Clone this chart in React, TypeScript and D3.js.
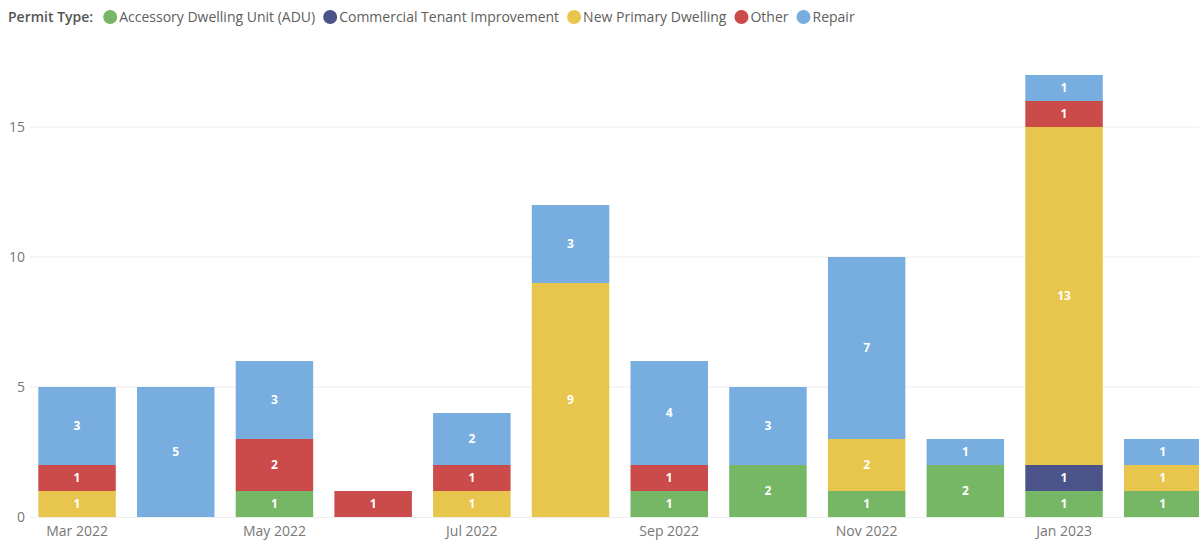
import React, { useEffect, useRef } from "react";
import * as d3 from "d3";

const months = ["Mar 2022", "Apr 2022", "May 2022", "Jun 2022", "Jul 2022", "Aug 2022", "Sep 2022", "Oct 2022", "Nov 2022", "Dec 2022", "Jan 2023", "Feb 2023"];
const keys = ["Accessory Dwelling Unit (ADU)", "Commercial Tenant Improvement", "New Primary Dwelling", "Other", "Repair"];
const colors = ["#76B766", "#4A548A", "#E8C54C", "#CB4A4A", "#77ADDF"];

const adu = [0, 0, 1, 0, 0, 0, 1, 2, 1, 2, 1, 1];
const cti = [0, 0, 0, 0, 0, 0, 0, 0, 0, 0, 1, 0];
const npd = [1, 0, 0, 0, 1, 9, 0, 0, 2, 0, 13, 1];
const other = [1, 0, 2, 1, 1, 0, 1, 0, 0, 0, 1, 0];
const repair = [3, 5, 3, 0, 2, 3, 4, 3, 7, 1, 1, 1];
const yTicks = [0, 5, 10, 15];

const W = 1199;
const H = 542;
const FONT = "'Open Sans', 'DejaVu Sans', sans-serif";

export default function App() {
  const svgRef = useRef<SVGSVGElement>(null);

  useEffect(() => {
    const svg = d3.select(svgRef.current);
    svg.selectAll("*").remove();

    const series = [adu, cti, npd, other, repair];
    const data = months.map((m, i) => {
      const row: any = { month: m };
      keys.forEach((k, j) => (row[k] = series[j][i]));
      return row;
    });
    const layers = d3.stack().keys(keys)(data);

    const step = 98.7;
    const pad = 0.215;
    const r0 = 38.3 - (pad / 2) * step;
    const x = d3.scaleBand().domain(months).range([r0, r0 + step * 12]).paddingInner(pad).paddingOuter(pad / 2);
    const y = d3.scaleLinear().domain([0, 15]).range([517, 127]);

    // grid
    svg.append("g")
      .selectAll("line")
      .data(yTicks.slice(1))
      .join("line")
      .attr("x1", 30)
      .attr("x2", W)
      .attr("y1", d => y(d))
      .attr("y2", d => y(d))
      .attr("stroke", "#EDEDED")
      .attr("stroke-width", 1);

    svg.append("g")
      .selectAll("text")
      .data(yTicks)
      .join("text")
      .attr("x", 25)
      .attr("y", d => y(d))
      .attr("dy", "0.35em")
      .attr("text-anchor", "end")
      .attr("font-family", FONT)
      .attr("font-size", 14)
      .attr("fill", "#777")
      .text(d => d);

    // bars
    const g = svg.append("g");
    layers.forEach((layer, li) => {
      const lg = g.append("g").attr("fill", colors[li]);
      layer.forEach((s: any) => {
        const v = s[1] - s[0];
        if (v <= 0) return;
        const x0 = x(s.data.month)!;
        lg.append("rect")
          .attr("x", x0)
          .attr("width", x.bandwidth())
          .attr("y", y(s[1]))
          .attr("height", y(s[0]) - y(s[1]));
        g.append("text")
          .attr("x", x0 + x.bandwidth() / 2)
          .attr("y", (y(s[0]) + y(s[1])) / 2)
          .attr("dy", "0.36em")
          .attr("text-anchor", "middle")
          .attr("font-family", FONT)
          .attr("font-weight", 700)
          .attr("font-size", 12)
          .attr("fill", "#fff")
          .text(v);
      });
    });

    // baseline
    svg.append("line")
      .attr("x1", 30).attr("x2", W)
      .attr("y1", y(0) + 0.5).attr("y2", y(0) + 0.5)
      .attr("stroke", "#EDEDED");

    // x labels (every other month)
    svg.append("g")
      .selectAll("text")
      .data(months.filter((_, i) => i % 2 === 0))
      .join("text")
      .attr("x", d => x(d)! + x.bandwidth() / 2)
      .attr("y", 531)
      .attr("dy", "0.35em")
      .attr("text-anchor", "middle")
      .attr("font-family", FONT)
      .attr("font-size", 14)
      .attr("fill", "#777")
      .text(d => d);

    // legend
    const leg = svg.append("g").attr("font-family", FONT).attr("font-size", 14);
    const title = leg.append("text")
      .attr("x", 8).attr("y", 17).attr("dy", "0.35em")
      .attr("fill", "#555").attr("font-weight", 600)
      .text("Permit Type:");
    let cx = 8 + (title.node() as SVGTextElement).getComputedTextLength() + 17;
    keys.forEach((k, i) => {
      leg.append("circle").attr("cx", cx).attr("cy", 17).attr("r", 7).attr("fill", colors[i]);
      const t = leg.append("text")
        .attr("x", cx + 9).attr("y", 17).attr("dy", "0.35em")
        .attr("fill", "#605E5C").text(k);
      cx += 9 + (t.node() as SVGTextElement).getComputedTextLength() + 15;
    });
  }, []);

  return (
    <svg ref={svgRef} width={W} height={H} style={{ position: "absolute", left: 0, top: 0, background: "#fff" }} />
  );
}
